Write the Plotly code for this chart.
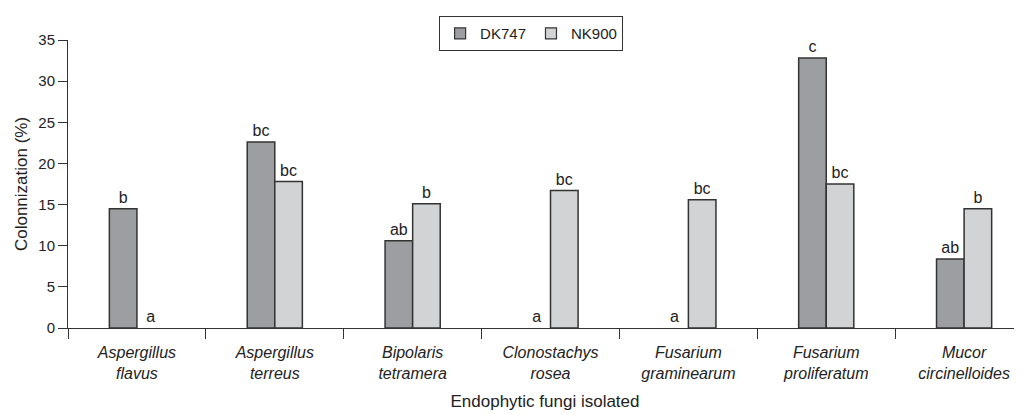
import plotly.graph_objects as go

categories = ["<i>Aspergillus<br>flavus</i>", "<i>Aspergillus<br>terreus</i>", "<i>Bipolaris<br>tetramera</i>",
              "<i>Clonostachys<br>rosea</i>", "<i>Fusarium<br>graminearum</i>", "<i>Fusarium<br>proliferatum</i>",
              "<i>Mucor<br>circinelloides</i>"]
dk747 = [14.5, 22.6, 10.6, 0, 0, 32.8, 8.4]
nk900 = [0, 17.8, 15.1, 16.7, 15.6, 17.5, 14.5]
dk747_letters = ["b", "bc", "ab", "a", "a", "c", "ab"]
nk900_letters = ["a", "bc", "b", "bc", "bc", "bc", "b"]
y_ticks = [0, 5, 10, 15, 20, 25, 30, 35]

FONT = "Liberation Sans, Arial, sans-serif"
fig = go.Figure()
series = [("DK747", dk747, dk747_letters, "#9d9ea2"),
          ("NK900", nk900, nk900_letters, "#d2d3d5")]
for name, vals, letters, color in series:
    fig.add_trace(go.Bar(name=name, x=categories, y=vals, text=letters,
                         textposition="outside", cliponaxis=False, showlegend=False,
                         marker=dict(color=color,
                                     line=dict(color="#333333",
                                               width=[1.5 if v > 0 else 0 for v in vals])),
                         textfont=dict(size=16, color="#222")))
for name, vals, letters, color in series:
    fig.add_trace(go.Scatter(name=name, x=[None], y=[None], mode="markers",
                             marker=dict(symbol="square", size=11, color=color,
                                         line=dict(color="#333333", width=1.2))))

fig.update_layout(
    width=1014, height=406,
    margin=dict(l=60, r=0, t=32, b=86, autoexpand=False),
    barmode="group", bargap=0.6, bargroupgap=0,
    plot_bgcolor="white", paper_bgcolor="white",
    font=dict(family=FONT, size=15, color="#222"),
    legend=dict(orientation="h", x=0.389, xanchor="left", y=1.083, yanchor="top",
                bordercolor="#333", borderwidth=1, font=dict(size=15),
                itemwidth=30, tracegroupgap=0),
    xaxis=dict(range=[-0.5, 6.42], tickson="boundaries", ticks="outside", ticklen=10,
               tickcolor="#333", showline=True, linecolor="#333", linewidth=1, automargin=False,
               ticklabelstandoff=10,
               tickfont=dict(size=16), title=dict(text="Endophytic fungi isolated", standoff=14,
                                                  font=dict(size=17))),
    yaxis=dict(range=[0, 35], tickvals=y_ticks, ticks="outside", ticklen=9, tickcolor="#333",
               showline=True, linecolor="#333", linewidth=1, showgrid=False, zeroline=False,
               tickfont=dict(size=15), automargin=False,
               title=dict(text="Colonnization (%)", font=dict(size=17), standoff=6)),
)
fig.write_html("out.html")
